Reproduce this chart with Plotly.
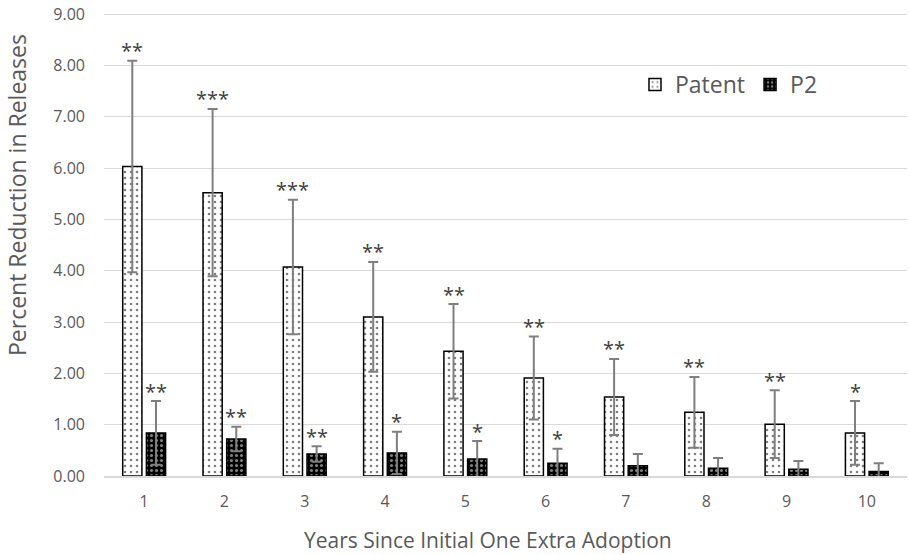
import plotly.graph_objects as go

years = ["1", "2", "3", "4", "5", "6", "7", "8", "9", "10"]
patent = [6.03, 5.52, 4.07, 3.10, 2.43, 1.91, 1.54, 1.24, 1.01, 0.84]
patent_err = [2.06, 1.63, 1.31, 1.07, 0.92, 0.81, 0.74, 0.69, 0.66, 0.62]
patent_sig = ["**", "***", "***", "**", "**", "**", "**", "**", "**", "*"]
p2 = [0.84, 0.72, 0.43, 0.45, 0.33, 0.25, 0.20, 0.15, 0.13, 0.09]
p2_err = [0.62, 0.24, 0.15, 0.41, 0.35, 0.28, 0.23, 0.20, 0.16, 0.16]
p2_sig = ["**", "**", "**", "*", "*", "*", "", "", "", ""]
y_ticks = [0, 1, 2, 3, 4, 5, 6, 7, 8, 9]

W, H = 910, 555
ml, mr, mt, mb = 104, 3, 13, 79
bargap, groupgap = 0.41, 0.19
FONT = "Open Sans"
GRAY = "#595959"

fig = go.Figure()
fig.add_trace(go.Bar(
    name="Patent", x=years, y=patent,
    marker=dict(color="white", line=dict(color="black", width=1.5),
                pattern=dict(shape=".", fgcolor="black", bgcolor="white", size=6, solidity=0.15)),
    error_y=dict(type="data", array=patent_err, visible=True, color="#7f7f7f", thickness=2, width=5),
))
fig.add_trace(go.Bar(
    name="P2", x=years, y=p2,
    marker=dict(color="black", line=dict(color="black", width=1.5),
                pattern=dict(shape=".", fgcolor="white", bgcolor="black", size=5, solidity=0.3)),
    error_y=dict(type="data", array=p2_err, visible=True, color="#7f7f7f", thickness=2, width=5),
))

pw = W - ml - mr
ph = H - mt - mb
cat_w = pw / len(years)
off = cat_w * (1 - bargap) / 4
anns = []
for i, yr in enumerate(years):
    for val, err, sig, sh in ((patent[i], patent_err[i], patent_sig[i], -off),
                              (p2[i], p2_err[i], p2_sig[i], off)):
        if sig:
            anns.append(dict(x=i, y=val + err, xref="x", yref="y", text=sig, showarrow=False,
                             xshift=sh, yshift=10, yanchor="middle",
                             font=dict(family=FONT, size=20, color="#404040")))
anns.append(dict(text="Percent Reduction in Releases", xref="paper", yref="paper",
                 x=(17 - ml) / pw, y=(476 - 195) / ph, textangle=-90,
                 showarrow=False, xanchor="center", yanchor="middle",
                 font=dict(family=FONT, size=23, color=GRAY)))
anns.append(dict(text="Years Since Initial One Extra Adoption", xref="paper", yref="paper",
                 x=(488 - ml) / pw, y=-(540 - 476) / ph,
                 showarrow=False, xanchor="center", yanchor="middle",
                 font=dict(family=FONT, size=21, color=GRAY)))

fig.update_layout(
    width=W, height=H, margin=dict(l=ml, r=mr, t=mt, b=mb),
    paper_bgcolor="white", plot_bgcolor="white",
    barmode="group", bargap=bargap, bargroupgap=groupgap,
    font=dict(family=FONT, color=GRAY),
    annotations=anns,
    legend=dict(orientation="h", x=(635 - ml) / pw, y=1 - (63 - mt) / ph, xanchor="left", yanchor="top",
                font=dict(family=FONT, size=23, color=GRAY), itemwidth=30,
                bgcolor="rgba(0,0,0,0)"),
    xaxis=dict(type="category", showgrid=False, showline=True, linecolor="#d9d9d9", linewidth=1.5,
               ticks="", ticklabelstandoff=10, tickfont=dict(family=FONT, size=16, color=GRAY)),
    yaxis=dict(range=[0, 9.02], tickvals=y_ticks, tickformat=".2f", showgrid=True,
               gridcolor="#d9d9d9", gridwidth=1.3, zeroline=False, showline=False, ticks="",
               ticklabelstandoff=18, ticklabeloverflow="allow",
               tickfont=dict(family=FONT, size=16, color=GRAY)),
)
fig.write_html("out.html", config={"displayModeBar": False},
               post_script="document.body.style.margin='0';")
